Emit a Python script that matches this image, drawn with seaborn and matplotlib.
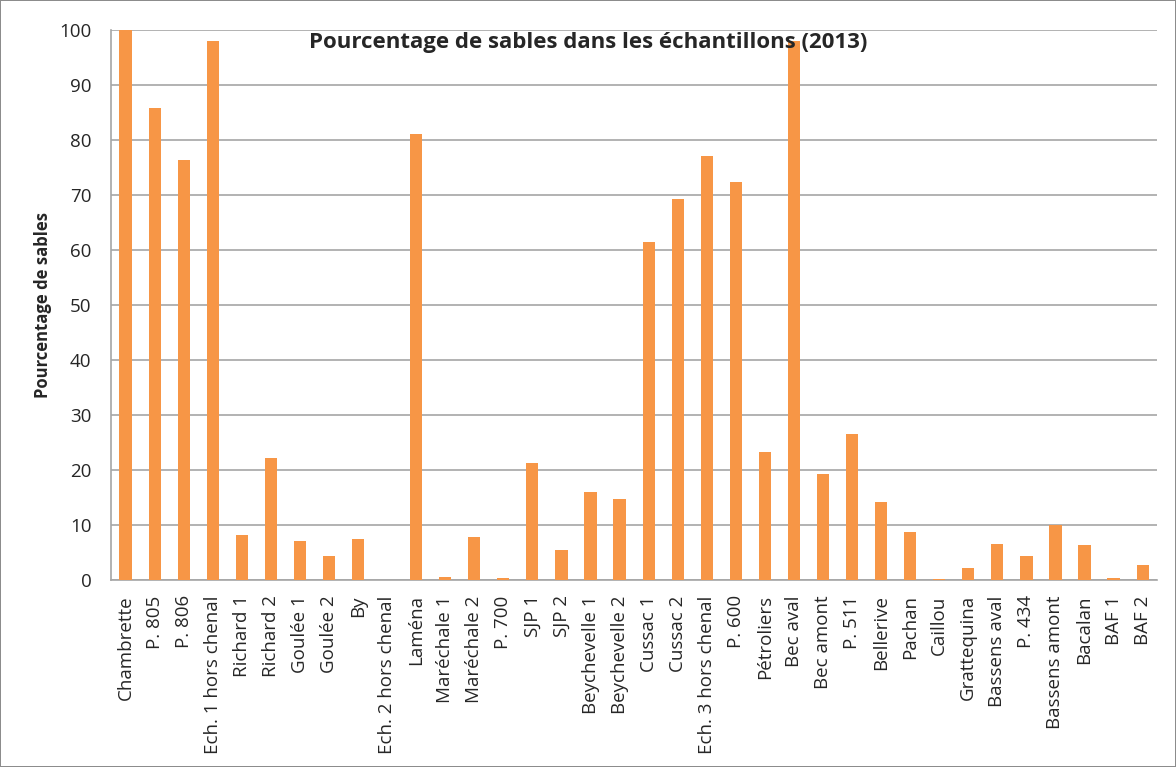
import matplotlib
matplotlib.use("Agg")
import matplotlib.pyplot as plt
import seaborn as sns
import numpy as np
import pandas as pd

# Sample sites and sand percentages (2013)
sites = ["Chambrette", "P. 805", "P. 806", "Ech. 1 hors chenal", "Richard 1",
         "Richard 2", "Goulée 1", "Goulée 2", "By", "Ech. 2 hors chenal",
         "Laména", "Maréchale 1", "Maréchale 2", "P. 700", "SJP 1", "SJP 2",
         "Beychevelle 1", "Beychevelle 2", "Cussac 1", "Cussac 2",
         "Ech. 3 hors chenal", "P. 600", "Pétroliers", "Bec aval", "Bec amont",
         "P. 511", "Bellerive", "Pachan", "Caillou", "Grattequina",
         "Bassens aval", "P. 434", "Bassens amont", "Bacalan", "BAF 1", "BAF 2"]
sables = [100, 85.8, 76.4, 98.0, 8.2,
          22.1, 7.0, 4.3, 7.5, 0.0,
          81.0, 0.6, 7.8, 0.4, 21.3, 5.4,
          16.0, 14.7, 61.5, 69.2,
          77.1, 72.4, 23.3, 98.0, 19.2,
          26.6, 14.2, 8.7, 0.1, 2.1,
          6.6, 4.4, 10.0, 6.3, 0.4, 2.7]

df = pd.DataFrame({"site": sites, "sables": sables})

sns.set_style("white")
plt.rcParams['font.family'] = ['Open Sans', 'DejaVu Sans']

fig = plt.figure(figsize=(11.76, 7.67), dpi=100)
fig.patch.set_edgecolor("#8c8c8c")
fig.patch.set_linewidth(1.2)
ax = fig.add_axes([0.0944, 0.2438, 0.8896, 0.7172])

sns.barplot(data=df, x="site", y="sables", color="#F79646", saturation=1,
            width=0.42, linewidth=0, ax=ax, zorder=3)

ax.set_ylim(0, 100)
ax.set_xlim(-0.5, len(sites) - 0.5)
ax.set_yticks(np.arange(0, 101, 10))
ax.yaxis.grid(True, color="#a6a6a6", linewidth=1.2, zorder=0)
ax.set_axisbelow(True)

for side in ["top", "right"]:
    ax.spines[side].set_visible(False)
for side in ["left", "bottom"]:
    ax.spines[side].set_color("#a6a6a6")
    ax.spines[side].set_linewidth(1.2)

ax.tick_params(axis="y", labelsize=13.5, length=5, width=1.2, color="#a6a6a6", pad=9)
ax.set_xticks(range(len(sites)))
ax.set_xticklabels(sites, rotation=90, fontsize=13.5)
ax.tick_params(axis="x", which="major", length=0, pad=11)
ax.set_xticks(np.arange(-0.5, len(sites), 1), minor=True)
ax.tick_params(axis="x", which="minor", length=6, color="#a6a6a6", width=1.2)

ax.set_xlabel("")
ax.set_ylabel("Pourcentage de sables", fontsize=12, fontweight="bold", labelpad=5)
fig.text(0.5, 0.958, "Pourcentage de sables dans les échantillons (2013)",
         ha="center", va="top", fontsize=16, fontweight="bold")

fig.savefig("out.png", dpi=100)
